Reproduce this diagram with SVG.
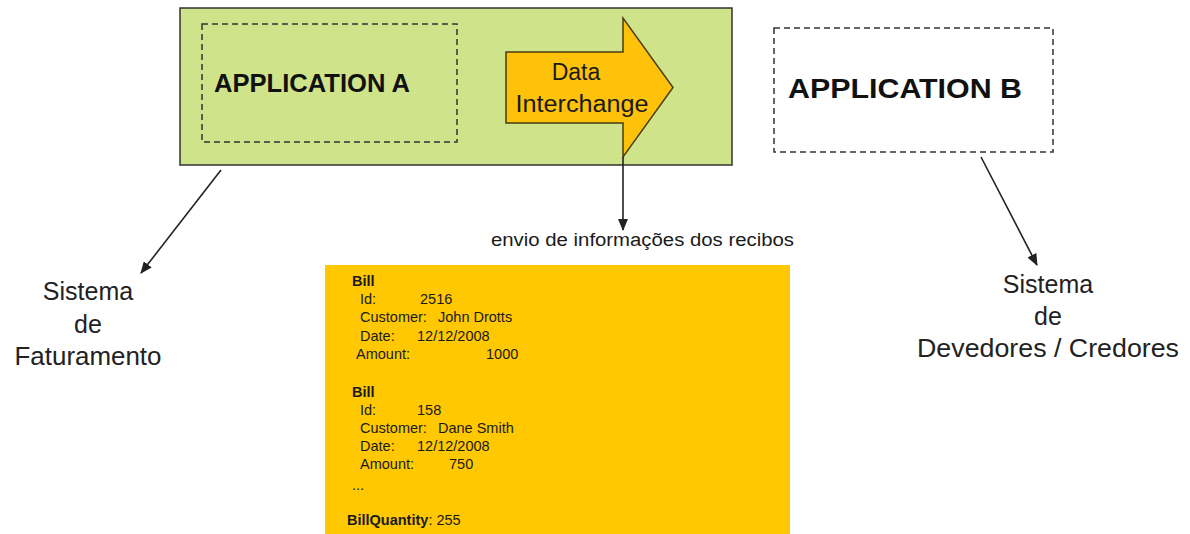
<svg xmlns="http://www.w3.org/2000/svg" width="1190" height="534" viewBox="0 0 1190 534">
  <style>
    text { font-family: "Liberation Sans", Arial, sans-serif; fill: #1a1a1a; }
    .dash { fill: none; stroke: #333; stroke-width: 1.5; stroke-dasharray: 6 4; }
    .title { font-weight: bold; fill: #111; }
    .label { font-size: 25px; text-anchor: middle; fill: #222; }
    .bill { font-size: 14.5px; }
    .b { font-weight: bold; }
    .conn { stroke: #222; stroke-width: 1.6; fill: none; marker-end: url(#head); }
  </style>
  <defs>
    <marker id="head" viewBox="0 0 12 10" refX="11" refY="5" markerWidth="12" markerHeight="10" markerUnits="userSpaceOnUse" orient="auto">
      <path d="M0,0 L12,5 L0,10 Z" fill="#222"/>
    </marker>
  </defs>
  <rect width="1190" height="534" fill="#ffffff"/>

  <!-- Application A container with data interchange arrow -->
  <g id="application-a">
    <rect x="180" y="8" width="552" height="157" fill="#cfe38a" stroke="#333" stroke-width="1.5"/>
    <rect class="dash" x="202" y="24" width="255" height="118"/>
    <text class="title" x="214" y="92" font-size="26" textLength="196" lengthAdjust="spacingAndGlyphs">APPLICATION A</text>
  </g>

  <g id="data-interchange">
    <polygon points="506,52 623,52 623,18 673,87.5 623,157 623,123 506,123" fill="#ffc20a" stroke="#4a3d10" stroke-width="1.5"/>
    <text x="576" y="80" font-size="23" text-anchor="middle">Data</text>
    <text x="582" y="112" font-size="23" text-anchor="middle" textLength="133" lengthAdjust="spacingAndGlyphs">Interchange</text>
  </g>

  <!-- Application B -->
  <g id="application-b">
    <rect class="dash" x="774" y="28" width="279" height="124"/>
    <text class="title" x="788" y="98" font-size="27" textLength="234" lengthAdjust="spacingAndGlyphs">APPLICATION  B</text>
  </g>

  <!-- Connectors -->
  <g id="connectors">
    <line class="conn" x1="221" y1="170" x2="141" y2="273"/>
    <line class="conn" x1="623" y1="157" x2="623" y2="230"/>
    <line class="conn" x1="981" y1="157" x2="1037" y2="265"/>
  </g>

  <g id="label-envio">
    <text x="491" y="246" font-size="18" textLength="303" lengthAdjust="spacingAndGlyphs">envio de informações dos recibos</text>
  </g>

  <g id="sistema-faturamento">
    <text class="label" x="88" y="300">Sistema</text>
    <text class="label" x="88" y="333">de</text>
    <text class="label" x="88" y="365" textLength="147" lengthAdjust="spacingAndGlyphs">Faturamento</text>
  </g>

  <g id="sistema-devedores">
    <text class="label" x="1048" y="293">Sistema</text>
    <text class="label" x="1048" y="325">de</text>
    <text class="label" x="1048" y="357" textLength="262" lengthAdjust="spacingAndGlyphs">Devedores / Credores</text>
  </g>

  <!-- Bill records payload -->
  <g id="bill-data" class="bill">
    <rect x="325" y="265" width="465" height="269" fill="#ffc800"/>
    <text class="b" x="352" y="286">Bill</text>
    <text x="360" y="304">Id:</text><text x="420" y="304">2516</text>
    <text x="360" y="322">Customer:</text><text x="438" y="322">John Drotts</text>
    <text x="360" y="341">Date:</text><text x="417" y="341">12/12/2008</text>
    <text x="356" y="359">Amount:</text><text x="486" y="359">1000</text>

    <text class="b" x="352" y="397">Bill</text>
    <text x="360" y="415">Id:</text><text x="417" y="415">158</text>
    <text x="360" y="433">Customer:</text><text x="438" y="433">Dane Smith</text>
    <text x="360" y="451">Date:</text><text x="417" y="451">12/12/2008</text>
    <text x="360" y="469">Amount:</text><text x="449" y="469">750</text>
    <text x="352" y="490" fill="#555">...</text>

    <text x="347" y="525"><tspan class="b">BillQuantity</tspan>: 255</text>
  </g>
</svg>
